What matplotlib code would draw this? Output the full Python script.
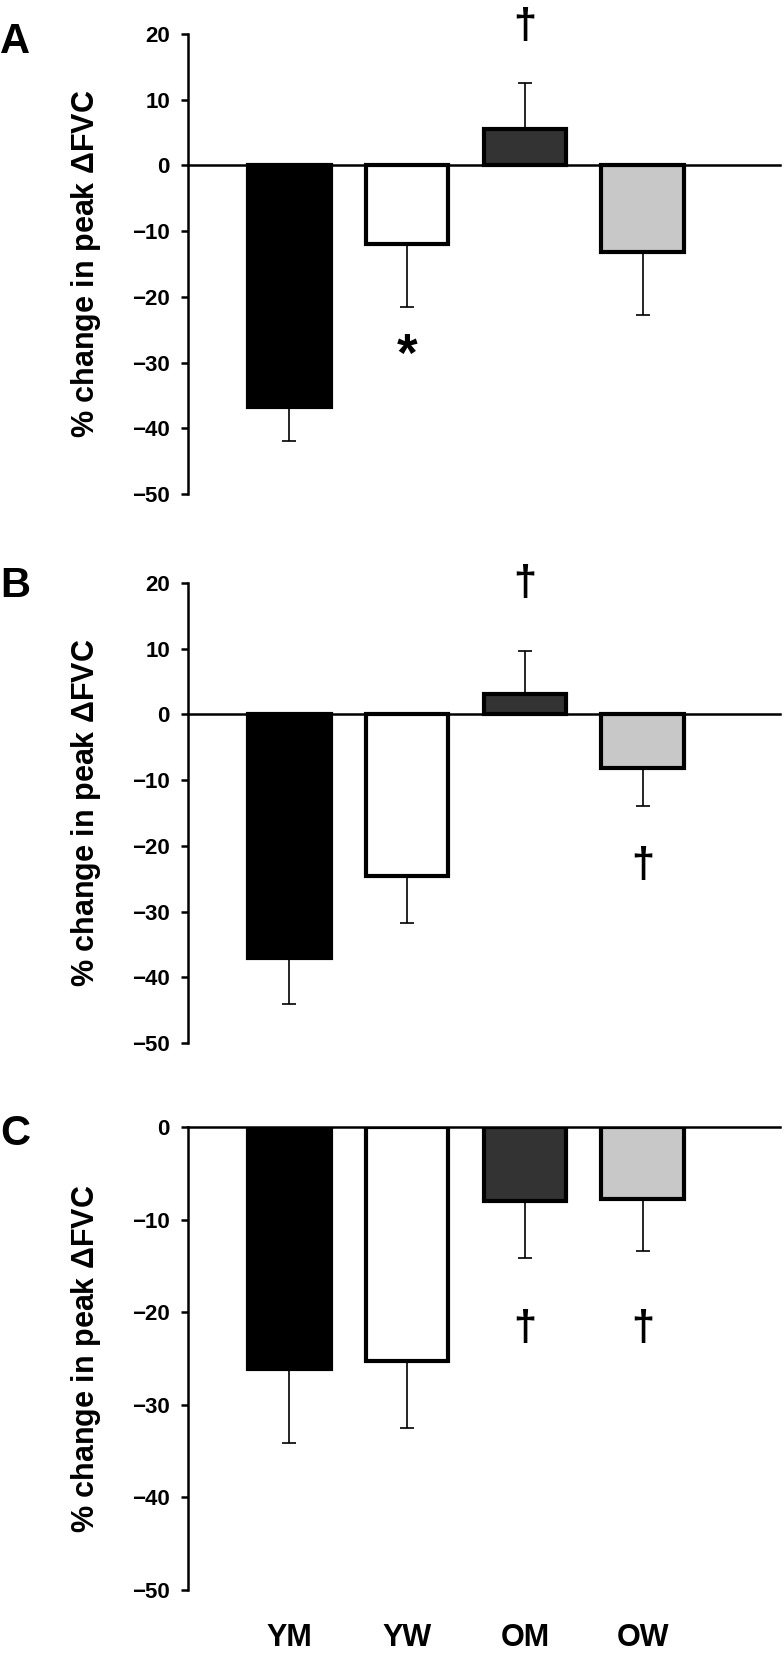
import matplotlib
matplotlib.use("Agg")
import matplotlib.pyplot as plt
import numpy as np

plt.rcParams['font.family'] = ['Liberation Sans', 'DejaVu Sans']
plt.rcParams['font.weight'] = 'bold'
plt.rcParams['mathtext.fontset'] = 'custom'
plt.rcParams['mathtext.rm'] = 'Liberation Sans'

groups = ['YM', 'YW', 'OM', 'OW']
colours = ['#000000', '#ffffff', '#333333', '#c8c8c8']

# mean % change in peak dFVC and SEM
mean_a = [-36.7, -11.9, 5.6, -13.1]
sem_a = [5.3, 9.6, 7.0, 9.6]
mean_b = [-37.0, -24.6, 3.1, -8.2]
sem_b = [7.1, 7.2, 6.5, 5.7]
mean_c = [-26.1, -25.3, -8.0, -7.8]
sem_c = [8.0, 7.2, 6.2, 5.6]

# significance marks: (group index, y, symbol)
marks_a = [(1, -29.2, '*'), (2, 21.0, '\u2020')]
marks_b = [(2, 19.8, '\u2020'), (3, -23.0, '\u2020')]
marks_c = [(2, -21.8, '\u2020'), (3, -21.8, '\u2020')]

panels = [
    ('A', mean_a, sem_a, marks_a, (-50, 20)),
    ('B', mean_b, sem_b, marks_b, (-50, 20)),
    ('C', mean_c, sem_c, marks_c, (-50, 0)),
]

W, H = 784, 1659
fig = plt.figure(figsize=(W / 100, H / 100), dpi=100)

# axes boxes in pixels: (top, bottom), and panel-letter baselines
ax_px = [(34, 494), (583, 1043), (1127, 1590)]
letter_base = [53, 597, 1145]
left_px, right_px = 188, 780

x = np.arange(len(groups))

for i, (letter, mean, sem, marks, ylim) in enumerate(panels):
    top, bot = ax_px[i]
    ax = fig.add_axes([left_px / W, 1 - bot / H,
                       (right_px - left_px) / W, (bot - top) / H])

    mean = np.array(mean)
    sem = np.array(sem)
    lower = np.where(mean < 0, sem, 0)
    upper = np.where(mean > 0, sem, 0)

    ax.errorbar(x, mean, yerr=[lower, upper], fmt='none', ecolor='black',
                elinewidth=1.2, capsize=5, capthick=1.2, zorder=2)
    ax.bar(x, mean, width=0.7, color=colours, edgecolor='black',
           linewidth=3, zorder=3)
    ax.axhline(0, color='black', lw=1.8, zorder=1, clip_on=False)

    for gi, y, sym in marks:
        fs = 38 if sym == '*' else 30
        ax.text(gi, y, sym, ha='center', va='center', fontsize=fs,
                fontweight='bold')

    ax.set_xlim(-0.862, 4.167)
    ax.set_ylim(*ylim)
    ax.set_yticks(np.arange(ylim[0], ylim[1] + 1, 10))
    for s in ['top', 'right', 'bottom']:
        ax.spines[s].set_visible(False)
    ax.spines['left'].set_linewidth(1.8)
    ax.tick_params(axis='y', direction='out', length=5, width=1.8,
                   labelsize=16, pad=8)

    if letter == 'C':
        ax.set_xticks(x, groups)
        ax.tick_params(axis='x', length=0, labelsize=22, pad=24)
    else:
        ax.set_xticks([])

    ax.set_ylabel('% change in peak $\\mathrm{\\Delta}$FVC', fontsize=22,
                  fontweight='bold', va='center')
    ax.yaxis.set_label_coords(-0.172, 0.5)

    fig.text(0.0, 1 - letter_base[i] / H, letter, fontsize=30,
             fontweight='bold', ha='left', va='baseline')

fig.savefig('out.png', dpi=100)
